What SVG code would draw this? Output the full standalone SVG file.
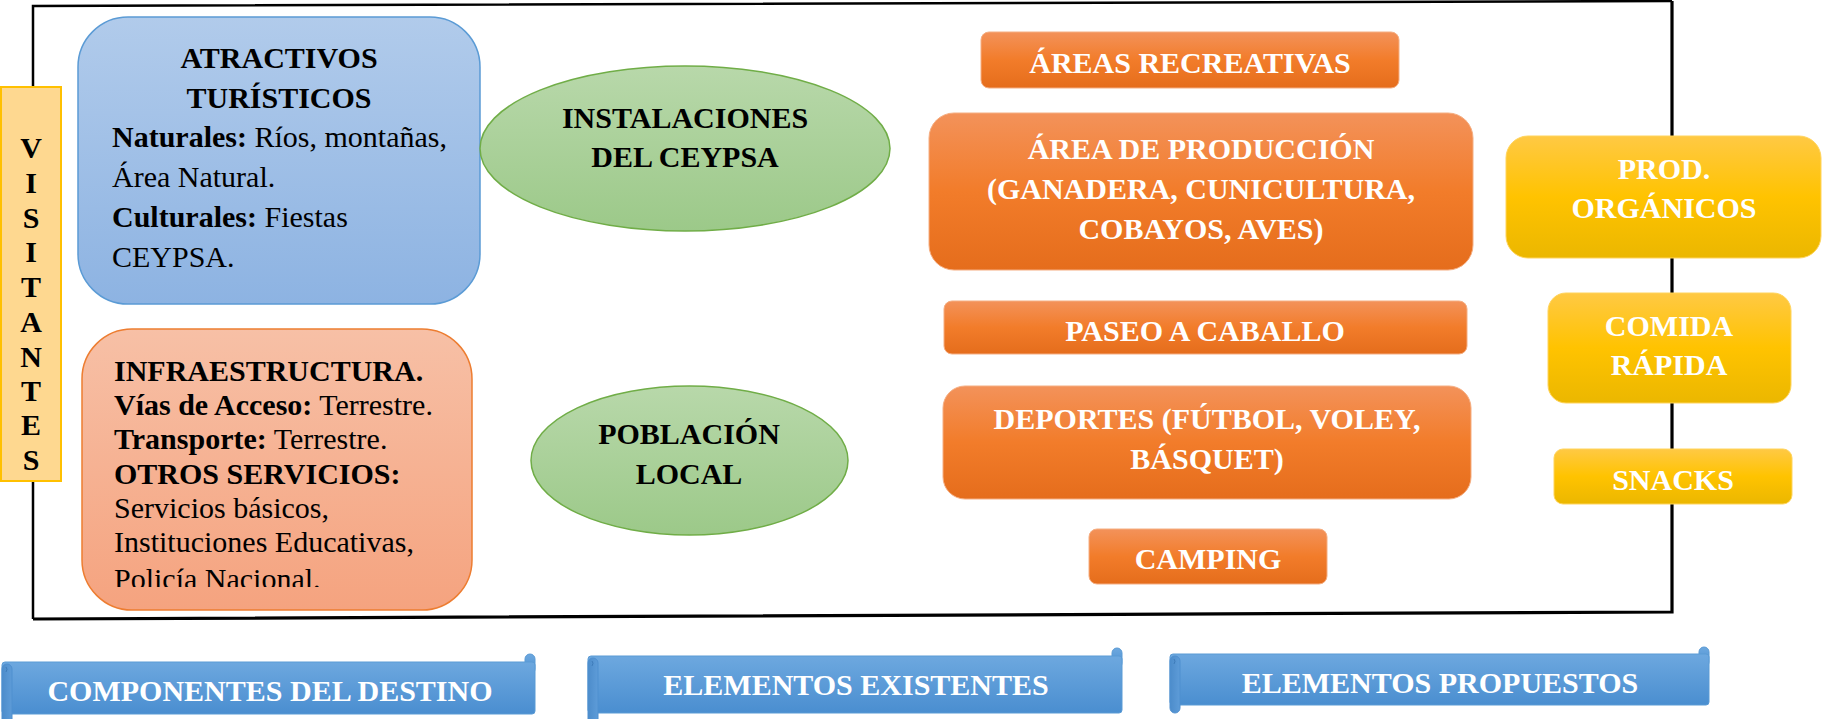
<svg xmlns="http://www.w3.org/2000/svg" width="1822" height="719" viewBox="0 0 1822 719">
<defs>
<linearGradient id="gBlue" x1="0" y1="0" x2="0" y2="1"><stop offset="0" stop-color="#B1CBEB"/><stop offset="1" stop-color="#8DB3E2"/></linearGradient>
<linearGradient id="gSalmon" x1="0" y1="0" x2="0" y2="1"><stop offset="0" stop-color="#F7C0A6"/><stop offset="1" stop-color="#F5A37F"/></linearGradient>
<linearGradient id="gGreen" x1="0" y1="0" x2="0" y2="1"><stop offset="0" stop-color="#B8D8AA"/><stop offset="1" stop-color="#9CC989"/></linearGradient>
<linearGradient id="gOrange" x1="0" y1="0" x2="0" y2="1"><stop offset="0" stop-color="#F3925A"/><stop offset="0.5" stop-color="#F27C2A"/><stop offset="1" stop-color="#E56D1C"/></linearGradient>
<linearGradient id="gYellow" x1="0" y1="0" x2="0" y2="1"><stop offset="0" stop-color="#FFC944"/><stop offset="0.5" stop-color="#FFC300"/><stop offset="1" stop-color="#EBB700"/></linearGradient>
<linearGradient id="gBanner" x1="0" y1="0" x2="0" y2="1"><stop offset="0" stop-color="#6DA8DF"/><stop offset="1" stop-color="#4A8ED0"/></linearGradient>
<linearGradient id="gRoll" x1="0" y1="0" x2="1" y2="0"><stop offset="0" stop-color="#4C8CCB"/><stop offset="1" stop-color="#5E9CD8"/></linearGradient>
<clipPath id="clipInfra"><rect x="82" y="329" width="392" height="258"/></clipPath>
<style>
text{font-family:"Liberation Serif","Times New Roman",serif;font-size:30px;}
.b{font-weight:bold;}
.w{fill:#FFFFFF;font-weight:bold;}
.k{fill:#000000;}
.c{text-anchor:middle;}
.orange{fill:url(#gOrange);stroke:#F5AE82;stroke-width:1;}
.yellow{fill:url(#gYellow);stroke:#FFD45C;stroke-width:1;}
.ell{fill:url(#gGreen);stroke:#70AD47;stroke-width:1.5;}
.banner{fill:url(#gBanner);stroke:#5B9BD5;stroke-width:1;}
.roll{fill:url(#gRoll);stroke:#4F8FCF;stroke-width:1;}
</style>
</defs>
<rect width="1822" height="719" fill="#FFFFFF"/>

<g id="frame" fill="none" stroke="#000000">
<polyline points="33,619 33,6 1672,1" stroke-width="2.5"/>
<polyline points="1672,1 1672,612 33,619" stroke-width="3.2"/>
</g>

<g id="visitantes">
<rect x="1" y="87" width="60" height="394" fill="#FED890" stroke="#FFC000" stroke-width="2"/>
<g class="b k c">
<text x="31" y="158" class="b c">V</text>
<text x="31" y="193" class="b c">I</text>
<text x="31" y="228" class="b c">S</text>
<text x="31" y="262" class="b c">I</text>
<text x="31" y="297" class="b c">T</text>
<text x="31" y="332" class="b c">A</text>
<text x="31" y="367" class="b c">N</text>
<text x="31" y="401" class="b c">T</text>
<text x="31" y="435" class="b c">E</text>
<text x="31" y="470" class="b c">S</text>
</g>
</g>

<g id="atractivos">
<rect x="78" y="17" width="402" height="287" rx="50" fill="url(#gBlue)" stroke="#5B9BD5" stroke-width="1.5"/>
<text x="279" y="68" class="b c">ATRACTIVOS</text>
<text x="279" y="108" class="b c">TURÍSTICOS</text>
<text x="112" y="147"><tspan class="b">Naturales:</tspan> Ríos, montañas,</text>
<text x="112" y="187">Área Natural.</text>
<text x="112" y="227"><tspan class="b">Culturales:</tspan> Fiestas</text>
<text x="112" y="267">CEYPSA.</text>
</g>

<g id="infraestructura">
<rect x="82" y="329" width="390" height="281" rx="50" fill="url(#gSalmon)" stroke="#ED7D31" stroke-width="1.5"/>
<g clip-path="url(#clipInfra)">
<text x="114" y="381" class="b">INFRAESTRUCTURA.</text>
<text x="114" y="415"><tspan class="b">Vías de Acceso:</tspan> Terrestre.</text>
<text x="114" y="449"><tspan class="b">Transporte:</tspan> Terrestre.</text>
<text x="114" y="484" class="b">OTROS SERVICIOS:</text>
<text x="114" y="518">Servicios básicos,</text>
<text x="114" y="552">Instituciones Educativas,</text>
<text x="114" y="589">Policía Nacional.</text>
</g>
</g>

<g id="instalaciones">
<ellipse cx="685" cy="148.5" rx="205" ry="82.5" class="ell"/>
<text x="685" y="128" class="b c">INSTALACIONES</text>
<text x="685" y="167" class="b c">DEL CEYPSA</text>
</g>

<g id="poblacion">
<ellipse cx="689.5" cy="460.5" rx="158.5" ry="74.5" class="ell"/>
<text x="689" y="444" class="b c">POBLACIÓN</text>
<text x="689" y="484" class="b c">LOCAL</text>
</g>

<g id="areas-recreativas">
<rect x="981" y="32" width="418" height="56" rx="8" class="orange"/>
<text x="1190" y="73" class="w c">ÁREAS RECREATIVAS</text>
</g>

<g id="area-produccion">
<rect x="929" y="113" width="544" height="157" rx="25" class="orange"/>
<text x="1201" y="159" class="w c">ÁREA DE PRODUCCIÓN</text>
<text x="1201" y="199" class="w c">(GANADERA, CUNICULTURA,</text>
<text x="1201" y="239" class="w c">COBAYOS, AVES)</text>
</g>

<g id="paseo-caballo">
<rect x="944" y="301" width="523" height="53" rx="8" class="orange"/>
<text x="1205" y="341" class="w c">PASEO A CABALLO</text>
</g>

<g id="deportes">
<rect x="943" y="386" width="528" height="113" rx="22" class="orange"/>
<text x="1207" y="429" class="w c">DEPORTES (FÚTBOL, VOLEY,</text>
<text x="1207" y="469" class="w c">BÁSQUET)</text>
</g>

<g id="camping">
<rect x="1089" y="529" width="238" height="55" rx="8" class="orange"/>
<text x="1208" y="569" class="w c">CAMPING</text>
</g>

<g id="prod-organicos">
<rect x="1506" y="136" width="315" height="122" rx="22" class="yellow"/>
<text x="1664" y="179" class="w c">PROD.</text>
<text x="1664" y="218" class="w c">ORGÁNICOS</text>
</g>

<g id="comida-rapida">
<rect x="1548" y="293" width="243" height="110" rx="18" class="yellow"/>
<text x="1669" y="336" class="w c">COMIDA</text>
<text x="1669" y="375" class="w c">RÁPIDA</text>
</g>

<g id="snacks">
<rect x="1554" y="449" width="238" height="55" rx="9" class="yellow"/>
<text x="1673" y="490" class="w c">SNACKS</text>
</g>

<g id="banner-componentes">
<rect x="525" y="654" width="10" height="20" rx="5" class="banner"/>
<rect x="2" y="662" width="533" height="52" rx="3" class="banner"/>
<rect x="2" y="664" width="10" height="60" rx="5" class="roll"/>
<path d="M6,667 q2,2 0,5" fill="none" stroke="#3E7CBA" stroke-width="1"/>
<text x="270" y="701" class="w c">COMPONENTES DEL DESTINO</text>
</g>

<g id="banner-existentes">
<rect x="1112" y="648" width="10" height="20" rx="5" class="banner"/>
<rect x="588" y="656" width="534" height="57" rx="3" class="banner"/>
<rect x="588" y="658" width="10" height="66" rx="5" class="roll"/>
<path d="M592,661 q2,2 0,5" fill="none" stroke="#3E7CBA" stroke-width="1"/>
<text x="856" y="695" class="w c">ELEMENTOS EXISTENTES</text>
</g>

<g id="banner-propuestos">
<rect x="1699" y="647" width="10" height="20" rx="5" class="banner"/>
<rect x="1170" y="654" width="539" height="51" rx="3" class="banner"/>
<rect x="1170" y="656" width="10" height="57" rx="5" class="roll"/>
<path d="M1174,659 q2,2 0,5" fill="none" stroke="#3E7CBA" stroke-width="1"/>
<text x="1440" y="693" class="w c">ELEMENTOS PROPUESTOS</text>
</g>
</svg>
